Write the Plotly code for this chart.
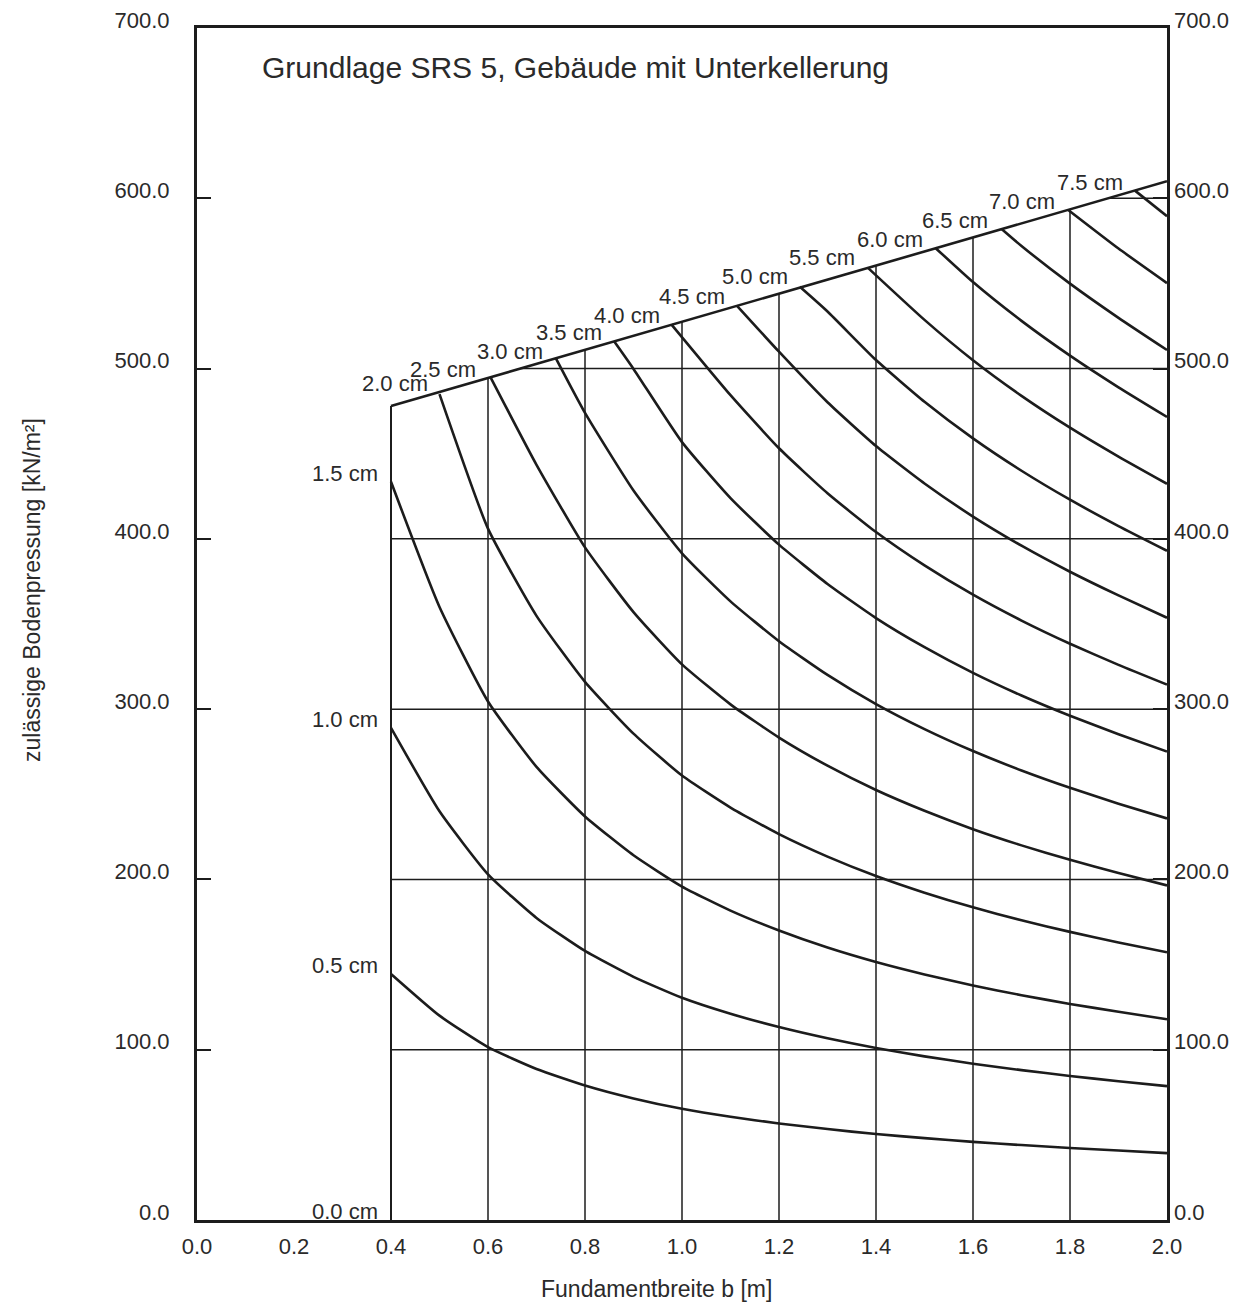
import plotly.graph_objects as go
import numpy as np

# ---------------- data ----------------
# upper limit line (admissible pressure limit)
boundary_b = [0.4, 2.0]
boundary_p = [478, 610]

# settlement curves: b [m] -> p [kN/m²]
b_05 = [0.4, 0.5, 0.6, 0.7, 0.8, 0.9, 1.0, 1.1, 1.2, 1.3, 1.4, 1.5, 1.6, 1.7, 1.8, 1.9, 2.0]
p_05 = [144.5, 120, 101.5, 88.7, 79, 71.4, 65.3, 60.6, 56.7, 53.4, 50.5, 48.1, 45.9, 44, 42.3, 40.8, 39.3]
b_10 = b_05
p_10 = [289, 240, 203, 177.4, 158, 142.8, 130.5, 121.1, 113.3, 106.7, 101, 96.1, 91.8, 88, 84.6, 81.5, 78.6]
b_15 = b_05
p_15 = [433.5, 360, 304.5, 266.1, 237, 214.2, 195.8, 181.7, 170, 160, 151.5, 144.2, 137.7, 132, 126.9, 122.3, 117.9]
b_20 = [0.5, 0.6, 0.7, 0.8, 0.9, 1.0, 1.1, 1.2, 1.3, 1.4, 1.5, 1.6, 1.7, 1.8, 1.9, 2.0]
p_20 = [485, 406, 354.8, 316, 285.6, 261, 242.2, 226.6, 213.4, 202, 192.2, 183.6, 176, 169.2, 163, 157.2]
b_25 = [0.605, 0.7, 0.8, 0.9, 1.0, 1.1, 1.2, 1.3, 1.4, 1.5, 1.6, 1.7, 1.8, 1.9, 2.0]
p_25 = [495, 443.5, 395, 357, 326.3, 302.8, 283.3, 266.8, 252.5, 240.3, 229.5, 220, 211.5, 203.8, 196.5]
b_30 = [0.74, 0.8, 0.9, 1.0, 1.1, 1.2, 1.3, 1.4, 1.5, 1.6, 1.7, 1.8, 1.9, 2.0]
p_30 = [506, 474, 428.4, 391.5, 363.3, 339.9, 320.1, 303, 288.3, 275.4, 264, 253.8, 244.5, 235.8]
b_35 = [0.86, 0.9, 1.0, 1.1, 1.2, 1.3, 1.4, 1.5, 1.6, 1.7, 1.8, 1.9, 2.0]
p_35 = [516, 499.8, 456.8, 423.9, 396.6, 373.5, 353.5, 336.4, 321.3, 308, 296.1, 285.3, 275.1]
b_40 = [0.978, 1.1, 1.2, 1.3, 1.4, 1.5, 1.6, 1.7, 1.8, 1.9, 2.0]
p_40 = [526, 484.4, 453.2, 426.8, 404, 384.4, 367.2, 352, 338.4, 326, 314.4]
b_45 = [1.113, 1.2, 1.3, 1.4, 1.5, 1.6, 1.7, 1.8, 1.9, 2.0]
p_45 = [537, 509.9, 480.2, 454.5, 432.5, 413.1, 396, 380.7, 366.8, 353.7]
b_50 = [1.243, 1.3, 1.4, 1.5, 1.6, 1.7, 1.8, 1.9, 2.0]
p_50 = [548, 533.5, 505, 480.5, 459, 440, 423, 407.5, 393]
b_55 = [1.384, 1.5, 1.6, 1.7, 1.8, 1.9, 2.0]
p_55 = [559, 528.6, 504.9, 484, 465.3, 448.3, 432.3]
b_60 = [1.522, 1.6, 1.7, 1.8, 1.9, 2.0]
p_60 = [571, 550.8, 528, 507.6, 489, 471.6]
b_65 = [1.659, 1.7, 1.8, 1.9, 2.0]
p_65 = [582, 572, 549.9, 529.8, 510.9]
b_70 = [1.797, 1.9, 2.0]
p_70 = [593, 570.5, 550.2]
b_75 = [1.934, 2.0]
p_75 = [604.5, 589.5]

curves_b = [b_05, b_10, b_15, b_20, b_25, b_30, b_35, b_40, b_45, b_50, b_55, b_60, b_65, b_70, b_75]
curves_p = [p_05, p_10, p_15, p_20, p_25, p_30, p_35, p_40, p_45, p_50, p_55, p_60, p_65, p_70, p_75]

# curve labels: text, right edge (b), centre (p)
label_text = ["0.0 cm", "0.5 cm", "1.0 cm", "1.5 cm", "2.0 cm", "2.5 cm", "3.0 cm", "3.5 cm",
              "4.0 cm", "4.5 cm", "5.0 cm", "5.5 cm", "6.0 cm", "6.5 cm", "7.0 cm", "7.5 cm"]
label_b = [0.377, 0.377, 0.377, 0.377, 0.480, 0.579, 0.717, 0.839,
           0.959, 1.093, 1.223, 1.361, 1.501, 1.635, 1.773, 1.913]
label_p = [5, 149.5, 294, 438.5, 491.5, 499.7, 510.3, 520.9,
           530.9, 542.6, 553.8, 565, 576, 587.2, 598.4, 609]

grid_b = [0.6, 0.8, 1.0, 1.2, 1.4, 1.6, 1.8]
grid_p = [100, 200, 300, 400, 500, 600]

x_ticks = [0.0, 0.2, 0.4, 0.6, 0.8, 1.0, 1.2, 1.4, 1.6, 1.8, 2.0]
y_ticks = [0, 100, 200, 300, 400, 500, 600, 700]

title_text = "Grundlage SRS 5, Gebäude mit Unterkellerung"
x_title = "Fundamentbreite b [m]"
y_title = "zulässige Bodenpressung [kN/m²]"

# ---------------- figure ----------------
INK = "#1c1c1c"
TXT = "#2a2a2a"
FONT = "Liberation Sans, Arial, sans-serif"

fig = go.Figure()

# vertical grid lines (up to the limit line)
gx, gy = [], []
for b in grid_b:
    top = float(np.interp(b, boundary_b, boundary_p))
    gx += [b, b, None]
    gy += [0, top, None]
# horizontal grid lines
for p in grid_p:
    start = max(0.4, float(np.interp(p, boundary_p, boundary_b)))
    gx += [start, 2.0, None]
    gy += [p, p, None]
fig.add_trace(go.Scatter(x=gx, y=gy, mode="lines", line=dict(color=INK, width=1.5),
                         showlegend=False, hoverinfo="skip"))

# left border of the field at b = 0.4
fig.add_trace(go.Scatter(x=[0.4, 0.4], y=[0, boundary_p[0]], mode="lines",
                         line=dict(color=INK, width=2), showlegend=False, hoverinfo="skip"))

# limit line
fig.add_trace(go.Scatter(x=boundary_b, y=boundary_p, mode="lines",
                         line=dict(color=INK, width=2.6), showlegend=False, hoverinfo="skip"))

# settlement curves
for cb, cp in zip(curves_b, curves_p):
    fig.add_trace(go.Scatter(x=cb, y=cp, mode="lines",
                             line=dict(color=INK, width=2.6, shape="spline", smoothing=0.5),
                             showlegend=False, hoverinfo="skip"))

# dummy trace for right axis
fig.add_trace(go.Scatter(x=[1.0], y=[350], yaxis="y2", mode="markers",
                         marker=dict(opacity=0), showlegend=False, hoverinfo="skip"))

annotations = []
for t, lb, lp in zip(label_text, label_b, label_p):
    annotations.append(dict(x=lb, y=lp, xref="x", yref="y", text=t, showarrow=False,
                            xanchor="right", yanchor="middle",
                            font=dict(family=FONT, size=22, color=TXT)))
annotations.append(dict(x=(260 - 197) / 970, y=(1220 - 67) / 1192, xref="paper", yref="paper",
                        text=title_text, showarrow=False, xanchor="left", yanchor="middle",
                        font=dict(family=FONT, size=30, color=TXT)))
annotations.append(dict(x=(656 - 197) / 970, y=-(1289 - 1220) / 1192, xref="paper", yref="paper",
                        text=x_title, showarrow=False, xanchor="center", yanchor="middle",
                        font=dict(family=FONT, size=23, color=TXT)))
annotations.append(dict(x=(32 - 197) / 970, y=(1220 - 590) / 1192, xref="paper", yref="paper",
                        text=y_title, showarrow=False, xanchor="center", yanchor="middle",
                        textangle=-90, font=dict(family=FONT, size=23, color=TXT)))

fig.update_layout(
    width=1233, height=1296,
    margin=dict(l=189, r=74, t=20, b=84),
    paper_bgcolor="white", plot_bgcolor="white",
    showlegend=False,
    annotations=annotations,
    xaxis=dict(range=[0, 2.0], tickvals=x_ticks, tickformat=".1f", ticks="",
               showline=True, linewidth=3, linecolor=INK, mirror=True,
               showgrid=False, zeroline=False, automargin=False,
               ticklabelstandoff=5,
               tickfont=dict(family=FONT, size=22, color=TXT)),
    yaxis=dict(range=[0, 700], tickvals=y_ticks, tickformat=".1f", ticks="inside",
               ticklen=14, tickwidth=1.5, tickcolor=INK,
               showline=True, linewidth=3, linecolor=INK, mirror="ticks",
               showgrid=False, zeroline=False, automargin=False,
               ticklabelstandoff=20, ticklabelshift=-8, ticklabeloverflow="allow",
               tickfont=dict(family=FONT, size=22, color=TXT)),
    yaxis2=dict(range=[0, 700], tickvals=y_ticks, tickformat=".1f", ticks="",
                overlaying="y", side="right", showline=False, showgrid=False,
                zeroline=False, automargin=False, ticklabelshift=-8,
                ticklabelstandoff=6, ticklabeloverflow="allow",
                tickfont=dict(family=FONT, size=22, color=TXT)),
)

fig.write_html("out.html")
